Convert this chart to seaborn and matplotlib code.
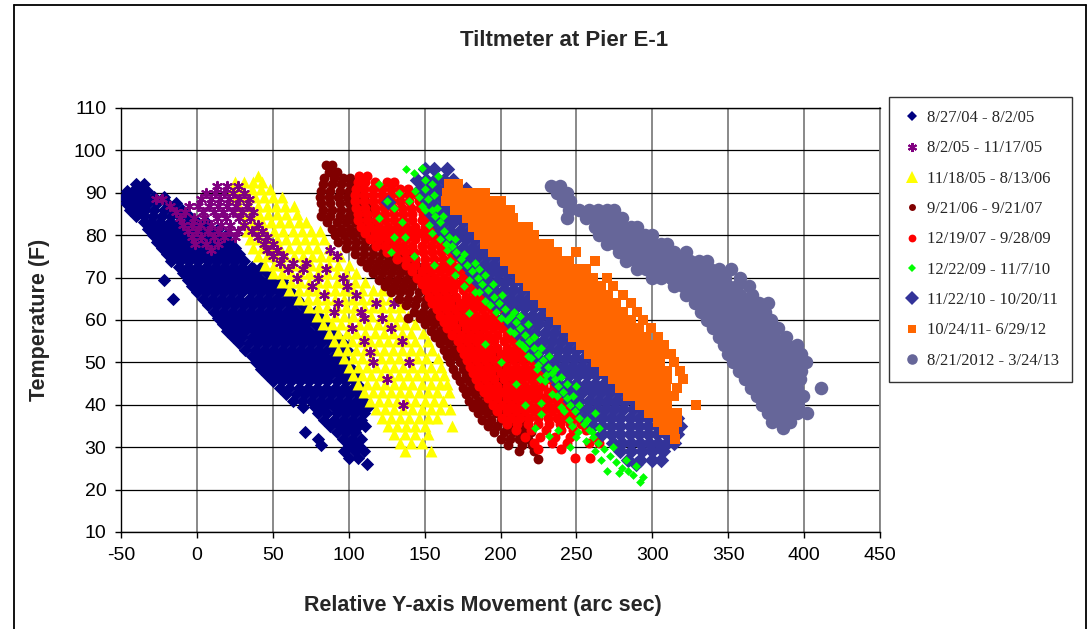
import matplotlib
matplotlib.use("Agg")
import matplotlib.pyplot as plt
import seaborn as sns
import pandas as pd
from matplotlib.lines import Line2D

# ---------------- data ----------------
labels = ["8/27/04 - 8/2/05", "8/2/05 - 11/17/05", "11/18/05 - 8/13/06",
          "9/21/06 - 9/21/07", "12/19/07 - 9/28/09", "12/22/09 - 11/7/10",
          "11/22/10 - 10/20/11", "10/24/11- 6/29/12", "8/21/2012 - 3/24/13"]

# each row: (temperature F, [relative Y-axis movement values, arc sec])
navy_rows = [
    (92, [-40, -35]), (90.5, [-46, -42, -37, -33]),
    (89, [-48, -44, -39, -34, -28, -22]), (87.5, [-47, -42, -37, -32, -26, -20, -14]),
    (86, [-44, -39, -34, -28, -22, -16, -10]), (84.5, [-40, -35, -29, -23, -17, -11, -5]),
    (83, [-35, -30, -24, -18, -12, -6, 0, 6]), (81.5, [-32, -27, -21, -15, -9, -3, 3, 9, 14]),
    (80, [-29, -23, -17, -11, -5, 1, 7, 13, 19]), (78.5, [-26, -20, -14, -8, -2, 4, 10, 16, 22]),
    (77, [-23, -17, -11, -5, 1, 7, 13, 19, 25]), (75.5, [-20, -14, -8, -2, 4, 10, 16, 22, 28]),
    (74, [-17, -11, -5, 1, 7, 13, 19, 25, 31]), (72.5, [-12, -6, 0, 6, 12, 18, 24, 30, 36, 42]),
    (71, [-9, -3, 3, 9, 15, 21, 27, 33, 39, 46]),
    (69.5, [-22, -6, 0, 6, 12, 18, 24, 30, 36, 42, 49, 56]),
    (68, [-3, 3, 9, 15, 21, 27, 33, 39, 45, 52, 59]),
    (66.5, [0, 6, 12, 18, 24, 30, 36, 42, 48, 55, 62]),
    (65, [-16, 4, 10, 16, 22, 28, 34, 40, 46, 52, 59, 66]),
    (63.5, [7, 13, 19, 25, 31, 37, 43, 49, 55, 62, 69]),
    (62, [11, 17, 23, 29, 35, 41, 47, 53, 59, 65, 72, 78]),
    (60.5, [14, 20, 26, 32, 38, 44, 50, 56, 62, 68, 75, 82]),
    (59, [17, 23, 29, 35, 41, 47, 53, 59, 65, 71, 78, 86]),
    (57.5, [20, 26, 32, 38, 44, 50, 56, 62, 68, 74, 81, 89]),
    (56, [24, 30, 36, 42, 48, 54, 60, 66, 72, 78, 85, 93]),
    (54.5, [28, 34, 40, 46, 52, 58, 64, 70, 76, 82, 89, 96]),
    (53, [32, 38, 44, 50, 56, 62, 68, 74, 80, 86, 92, 99]),
    (51.5, [36, 42, 48, 54, 60, 66, 72, 78, 84, 90, 96]),
    (50, [39, 45, 51, 57, 63, 69, 75, 81, 87, 93, 99]),
    (48.5, [42, 48, 54, 60, 66, 72, 78, 84, 90, 96, 102]),
    (47, [46, 52, 58, 64, 70, 76, 82, 88, 94, 100, 106]),
    (45.5, [50, 56, 62, 68, 74, 80, 86, 92, 98, 104]),
    (44, [55, 61, 67, 73, 79, 85, 91, 97, 103, 108]),
    (42.5, [59, 65, 71, 77, 83, 89, 95, 101, 107]),
    (41, [63, 69, 75, 81, 87, 93, 99, 105, 110]),
    (39.5, [70, 78, 84, 90, 96, 102, 108, 113]),
    (38, [80, 86, 92, 98, 104, 110]), (36.5, [84, 90, 96, 102, 108]),
    (35, [88, 94, 100, 106, 111]), (33.5, [71, 92, 98, 104]),
    (32, [80, 96, 102, 108]), (30.5, [82, 100, 106]), (29, [97, 104, 110]),
    (27.5, [100, 106]), (26, [112]),
]

purple_rows = [
    (91.5, [13, 20, 27]), (90, [6, 12, 18, 24, 31]),
    (88.5, [-27, -23, 3, 9, 15, 21, 28, 34]), (87, [-18, -5, 1, 8, 14, 20, 26, 33]),
    (85.5, [-14, -8, 4, 11, 17, 24, 30, 37]), (84, [-11, -2, 5, 13, 19, 28, 35]),
    (82.5, [-9, -3, 2, 9, 16, 22, 31, 40]), (81, [-6, 0, 7, 14, 21, 27, 36, 43]),
    (79.5, [-3, 3, 11, 18, 25, 40, 46]), (78, [-1, 6, 14, 44, 50]),
    (76.5, [9, 46, 53, 88]), (75, [50, 57, 92]), (73.5, [55, 63, 72]),
    (72, [60, 70, 85]), (70, [66, 80, 96]), (68, [76, 99]), (66, [84, 105]),
    (64, [93, 118, 130]), (62, [90, 108]), (60.5, [110, 122]), (58, [102, 128]),
    (55, [110, 135]), (52.5, [114]), (50, [116, 140]), (46, [125]), (40, [136]),
]

yellow_rows = [
    (94, [40]), (92.5, [25, 31, 37, 43]), (91, [24, 30, 36, 42, 48]),
    (89, [26, 32, 38, 44, 50, 56]), (87, [28, 34, 40, 46, 52, 58, 64]),
    (85, [29, 35, 41, 47, 53, 59, 66]), (83, [31, 37, 43, 49, 55, 61, 67, 72]),
    (81, [33, 39, 45, 51, 57, 63, 69, 75, 81]), (79, [35, 41, 47, 53, 59, 65, 71, 77, 84]),
    (77, [37, 43, 49, 55, 61, 67, 73, 79, 87]),
    (75, [40, 46, 52, 58, 64, 70, 76, 82, 88, 94]),
    (73, [45, 51, 57, 63, 69, 75, 81, 87, 93, 100]),
    (71, [50, 56, 62, 68, 74, 80, 86, 92, 98, 105]),
    (69, [56, 62, 68, 74, 80, 86, 92, 98, 104, 111]),
    (67, [61, 67, 73, 79, 85, 91, 97, 103, 109, 116, 122]),
    (65, [67, 73, 79, 85, 91, 97, 103, 109, 115, 121, 127]),
    (63, [74, 80, 86, 92, 98, 104, 110, 116, 122, 128, 134]),
    (61, [79, 85, 91, 97, 103, 109, 115, 121, 127, 133, 139]),
    (59, [83, 89, 95, 101, 107, 113, 119, 125, 131, 137, 144]),
    (57, [87, 93, 99, 105, 111, 117, 123, 129, 135, 141, 149]),
    (55, [90, 96, 102, 108, 114, 120, 126, 132, 138, 144, 152]),
    (53, [93, 99, 105, 111, 117, 123, 129, 135, 141, 147, 155]),
    (51, [97, 103, 109, 115, 121, 127, 133, 139, 145, 151, 159]),
    (49, [100, 106, 112, 118, 124, 130, 136, 142, 148, 154, 161]),
    (47, [103, 109, 115, 121, 127, 133, 139, 145, 151, 157, 163]),
    (45, [106, 112, 118, 124, 130, 136, 142, 148, 154, 160, 165]),
    (43, [110, 116, 122, 128, 134, 140, 146, 152, 158, 166]),
    (41, [114, 120, 126, 132, 138, 144, 150, 156, 162]),
    (39, [118, 124, 130, 136, 142, 148, 154, 160, 167]),
    (37, [122, 128, 134, 140, 146, 152, 158]), (35, [126, 132, 138, 144, 150, 168]),
    (33, [130, 137, 144, 152]), (31, [134, 141, 148]), (29, [137, 154]),
]

darkred_rows = [
    (96.5, [85, 89]), (95, [87, 92]), (93.5, [84, 90, 96, 101]),
    (92, [83, 89, 95, 101, 106]), (90.5, [82, 88, 94, 100, 106]),
    (89, [81, 87, 93, 99, 105, 110]), (87.5, [82, 88, 94, 100, 106, 112]),
    (86, [83, 89, 95, 101, 107, 113]), (84.5, [82, 88, 94, 100, 106, 112]),
    (83, [86, 92, 98, 104, 110, 116]), (81.5, [89, 95, 101, 107, 113, 119]),
    (80, [91, 97, 103, 109, 115, 121]), (78.5, [93, 99, 105, 111, 117, 123, 129]),
    (77, [98, 104, 110, 116, 122, 128, 134]), (75.5, [104, 110, 116, 122, 128, 134, 140]),
    (74, [108, 114, 120, 126, 132, 138, 144]), (72.5, [112, 118, 124, 130, 136, 142, 148]),
    (71, [116, 122, 128, 134, 140, 146, 152]), (69.5, [120, 126, 132, 138, 144, 150, 156]),
    (68, [124, 130, 136, 142, 148, 154, 160]), (66.5, [128, 134, 140, 146, 152, 158, 164]),
    (65, [133, 139, 145, 151, 157, 163, 169]), (63.5, [138, 144, 150, 156, 162, 168, 174]),
    (62, [143, 149, 155, 161, 167, 173]), (60.5, [139, 147, 153, 159, 165, 171, 177]),
    (59, [150, 156, 162, 168, 174, 180]), (57.5, [154, 160, 166, 172, 178, 184]),
    (56, [157, 163, 169, 175, 181, 187]), (54.5, [160, 166, 172, 178, 184, 190]),
    (53, [163, 169, 175, 181, 187, 193]), (51.5, [165, 171, 177, 183, 189, 195]),
    (50, [167, 173, 179, 185, 191, 197]), (48.5, [169, 175, 181, 187, 193, 199]),
    (47, [171, 177, 183, 189, 195, 201]), (45.5, [173, 179, 185, 191, 197, 203]),
    (44, [175, 181, 187, 193, 199, 205]), (42.5, [177, 183, 189, 195, 201, 207]),
    (41, [179, 185, 191, 197, 203, 209]), (39.5, [182, 188, 194, 200, 206, 212]),
    (38, [185, 191, 197, 203, 209, 215]), (36.5, [188, 194, 200, 206, 212, 218]),
    (35, [192, 198, 204, 210, 216]), (33.5, [196, 202, 208, 214, 220]),
    (32, [200, 206, 212, 218]), (30.5, [205, 214, 221]), (29, [212, 222]), (27.3, [225]),
]

red_rows = [
    (94, [107, 112]), (92.5, [106, 111, 117, 125, 130]),
    (91, [105, 110, 116, 122, 128, 134, 139]),
    (89.5, [104, 110, 116, 122, 128, 134, 140, 145]),
    (88, [104, 110, 116, 122, 128, 134, 140, 146]),
    (86.5, [105, 111, 117, 123, 129, 135, 141, 147]),
    (85, [106, 112, 118, 124, 130, 136, 142, 149]),
    (83.5, [106, 112, 118, 124, 130, 136, 142, 148, 152]),
    (82, [108, 114, 120, 126, 132, 138, 144, 150, 155]),
    (80.5, [111, 117, 123, 129, 135, 141, 147, 153, 159]),
    (79, [114, 120, 126, 132, 138, 144, 150, 156, 162]),
    (77.5, [118, 124, 130, 136, 142, 148, 154, 160, 166]),
    (76, [125, 131, 137, 143, 149, 155, 161, 167, 172]),
    (74.5, [132, 138, 144, 150, 156, 162, 168, 174, 177]),
    (73, [138, 144, 150, 156, 162, 168, 174, 180]),
    (71.5, [142, 148, 154, 160, 166, 172, 178, 184]),
    (70, [145, 151, 157, 163, 169, 175, 181, 187]),
    (68.5, [148, 154, 160, 166, 172, 178, 184, 190]),
    (67, [151, 157, 163, 169, 175, 181, 187, 194]),
    (65.5, [153, 159, 165, 171, 177, 183, 189, 195, 199]),
    (64, [155, 161, 167, 173, 179, 185, 191, 197, 203]),
    (62.5, [158, 164, 170, 176, 182, 188, 194, 200, 206]),
    (61, [160, 166, 172, 178, 184, 190, 196, 202, 209]),
    (59.5, [163, 169, 175, 181, 187, 193, 199, 205, 212]),
    (58, [165, 171, 177, 183, 189, 195, 201, 207, 214]),
    (56.5, [168, 174, 180, 186, 192, 198, 204, 210, 216]),
    (55, [172, 178, 184, 190, 196, 202, 208, 214, 219]),
    (53.5, [174, 180, 186, 192, 198, 204, 210, 216, 221]),
    (52, [176, 182, 188, 194, 200, 206, 212, 218, 224]),
    (50.5, [178, 184, 190, 196, 202, 208, 214, 220, 226]),
    (49, [180, 186, 192, 198, 204, 210, 216, 222, 228]),
    (47.5, [182, 188, 194, 200, 206, 212, 218, 224, 230]),
    (46, [184, 190, 196, 202, 208, 214, 220, 226, 232]),
    (44.5, [186, 192, 198, 204, 210, 216, 222, 228, 235]),
    (43, [189, 195, 201, 207, 213, 219, 225, 231, 238]),
    (41.5, [192, 198, 204, 210, 216, 222, 228, 234, 240]),
    (40, [195, 201, 207, 213, 219, 225, 231, 237, 243]),
    (38.5, [198, 204, 210, 216, 222, 228, 234, 240, 246]),
    (37, [201, 207, 213, 219, 225, 231, 237, 243, 249]),
    (35.5, [204, 211, 218, 225, 232, 239, 246, 253]),
    (34, [210, 220, 230, 240, 248, 256]), (32.5, [216, 226, 236, 246, 262]),
    (31, [222, 234, 244, 258, 265]), (29.5, [225, 240]), (27.5, [249, 259]),
]

green_x = [138, 143, 148, 159, 155, 150, 146, 152, 148, 155, 157, 160, 153, 163, 166, 160,
           168, 171, 165, 174, 178, 172, 181, 185, 179, 188, 192, 186, 196, 199, 193, 203,
           207, 200, 210, 213, 206, 216, 219, 212, 222, 225, 218, 228, 231, 224, 234, 236,
           229, 238, 241, 234, 244, 246, 240, 249, 252, 245, 255, 258, 251, 261, 264, 268,
           272, 276, 280, 284, 287, 292, 270, 278,
           120, 120, 130, 130, 137, 143, 156, 125, 135, 140, 133, 128, 179, 190, 227, 216,
           226, 227, 216, 223, 232, 200, 210, 238, 246,
           150, 144, 156, 150, 158, 162, 155, 164, 170, 167, 176, 170, 183, 176, 186, 183,
           190, 190, 195, 197, 201, 204, 209, 209, 213, 214, 218, 220, 222, 225, 227, 230,
           232, 236, 237, 240, 242, 244, 247, 248, 250, 252, 256, 257, 262, 260, 266, 274,
           283, 289, 294, 265, 250, 262]
green_y = [95.5, 94.7, 95.8, 94, 92, 91, 89, 88.5, 87, 86, 84.5, 83, 82.5, 81, 79.5, 79,
           77.5, 76, 76.5, 74.5, 73, 72.5, 71.5, 70, 69.5, 68.5, 67, 66.5, 65.5, 64, 63.5, 62.5,
           61, 60.5, 59.5, 58, 57.5, 56.5, 55, 54.5, 53.5, 52, 51.5, 50.5, 49, 48.5, 47.5, 46,
           45.5, 44.5, 43, 42.5, 41.5, 40, 39.5, 38.5, 37, 36.5, 35.5, 34, 33.5, 32.5, 31, 29.5,
           28, 26.5, 25, 24.5, 23.5, 21.8, 24.5, 24,
           92, 84, 86.5, 79.5, 79.5, 75, 73, 88, 83, 88, 90, 76, 61.7, 54.4, 37.8, 53.3,
           46, 40.5, 40, 34.6, 32.7, 50, 45, 34, 30,
           93, 90.5, 89.5, 86, 86.5, 84.5, 80.5, 78, 79, 74, 75.5, 70.5, 73.5, 68, 72, 66.5,
           70.5, 64.5, 68.5, 62, 66, 60, 62, 57, 61, 54, 59, 51, 56, 49.5, 53.5, 47,
           51.5, 48.5, 42, 46.5, 38.5, 45, 35, 42, 32.5, 40, 31.5, 36.5, 29, 33.5, 27, 30,
           27, 25.5, 23, 34.5, 44.5, 38]

blue_rows = [
    (95.5, [150, 156, 165]), (93, [145, 151, 157, 163, 169]),
    (91, [147, 153, 159, 165, 171, 177]), (89, [149, 155, 161, 167, 173, 179, 185]),
    (87.8, [126]),
    (87, [151, 157, 163, 169, 175, 181, 187]), (85, [154, 160, 166, 172, 178, 184, 190]),
    (83, [157, 163, 169, 175, 181, 187, 193]), (81, [161, 167, 173, 179, 185, 191, 197]),
    (79, [165, 171, 177, 183, 189, 195, 201]), (77, [169, 175, 181, 187, 193, 199, 205]),
    (75, [173, 179, 185, 191, 197, 203, 209]), (73, [177, 183, 189, 195, 201, 207, 213]),
    (71, [181, 187, 193, 199, 205, 211, 217, 223]),
    (69, [185, 191, 197, 203, 209, 215, 221, 227]),
    (67, [190, 196, 202, 208, 214, 220, 226, 232]),
    (65, [194, 200, 206, 212, 218, 224, 230, 236]),
    (63, [198, 204, 210, 216, 222, 228, 234, 240]),
    (61, [203, 209, 215, 221, 227, 233, 239, 245]),
    (59, [207, 213, 219, 225, 231, 237, 243, 249]),
    (57, [211, 217, 223, 229, 235, 241, 247, 253]),
    (55, [216, 222, 228, 234, 240, 246, 252, 258, 264]),
    (53, [220, 226, 232, 238, 244, 250, 256, 262, 268]),
    (51, [225, 231, 237, 243, 249, 255, 261, 267, 273]),
    (49, [229, 235, 241, 247, 253, 259, 265, 271, 277]),
    (47, [233, 239, 245, 251, 257, 263, 269, 275, 281]),
    (45, [238, 244, 250, 256, 262, 268, 274, 280, 286]),
    (43, [242, 248, 254, 260, 266, 272, 278, 284, 290]),
    (41, [246, 252, 258, 264, 270, 276, 282, 288, 295]),
    (39, [251, 257, 263, 269, 275, 281, 287, 293, 300]),
    (37, [255, 261, 267, 273, 279, 285, 291, 297, 304, 316]),
    (35, [261, 267, 273, 279, 285, 291, 297, 303, 310, 318]),
    (33, [267, 273, 279, 285, 291, 297, 303, 309, 316]),
    (31, [274, 280, 286, 292, 298, 304, 310, 314]),
    (29, [279, 286, 293, 300, 307]), (27, [284, 292, 300, 306]), (26, [289]),
]

orange_rows = [
    (92, [166, 172]), (90, [165, 171, 177, 183, 190]),
    (88, [164, 170, 176, 182, 188, 194, 200]), (86, [170, 176, 182, 188, 194, 200, 206]),
    (84, [178, 184, 190, 196, 202, 208]), (82, [182, 188, 194, 200, 206, 212, 218]),
    (80, [186, 192, 198, 204, 210, 216, 222]), (78, [190, 196, 202, 208, 214, 220, 226, 232]),
    (76, [195, 201, 207, 213, 219, 225, 231, 237, 250]),
    (74, [203, 209, 215, 221, 227, 233, 239, 245, 262]),
    (72, [208, 214, 220, 226, 232, 238, 244, 250, 256]),
    (70, [213, 219, 225, 231, 237, 243, 249, 255, 261, 270]),
    (68, [218, 224, 230, 236, 242, 248, 254, 260, 266, 274]),
    (66, [223, 229, 235, 241, 247, 253, 259, 265, 271, 281]),
    (64, [228, 234, 240, 246, 252, 258, 264, 270, 276, 286]),
    (62, [233, 239, 245, 251, 257, 263, 269, 275, 281, 290]),
    (60, [238, 244, 250, 256, 262, 268, 274, 280, 286, 294]),
    (58, [243, 249, 255, 261, 267, 273, 279, 285, 291, 299]),
    (56, [248, 254, 260, 266, 272, 278, 284, 290, 296, 304]),
    (54, [253, 259, 265, 271, 277, 283, 289, 295, 301, 308]),
    (52, [258, 264, 270, 276, 282, 288, 294, 300, 306, 312]),
    (50, [263, 269, 275, 281, 287, 293, 299, 305, 314]),
    (48, [268, 274, 280, 286, 292, 298, 304, 310, 318]),
    (46, [274, 280, 286, 292, 298, 304, 310, 320]),
    (44, [279, 285, 291, 297, 303, 309, 316]),
    (42, [284, 290, 296, 302, 308, 314]), (40, [292, 298, 304, 310, 329]),
    (38, [298, 304, 310, 316]), (36, [304, 310, 316]), (34, [308, 314]), (32, [315]),
]

grey_rows = [
    (91.5, [233, 239]), (90, [237, 244]), (88, [241, 246]),
    (86, [245, 252, 258, 264, 270, 275]), (84, [244, 256, 262, 268, 274, 280]),
    (82, [262, 268, 274, 280, 286, 290]), (80, [265, 271, 277, 283, 289, 295, 300]),
    (78, [270, 276, 282, 288, 294, 300, 306, 310]),
    (76, [278, 284, 290, 296, 302, 308, 314, 322]),
    (74, [283, 289, 295, 301, 307, 313, 319, 325, 331, 336]),
    (72, [290, 296, 302, 308, 314, 320, 326, 332, 338, 344, 352]),
    (70, [300, 306, 312, 318, 324, 330, 336, 342, 348, 358]),
    (68, [314, 320, 326, 332, 338, 344, 350, 356, 364]),
    (66, [322, 328, 334, 340, 346, 352, 358, 366]),
    (64, [328, 334, 340, 346, 352, 358, 364, 370, 376]),
    (62, [332, 338, 344, 350, 356, 362, 368, 374]),
    (60, [336, 342, 348, 354, 360, 366, 372, 378]),
    (58, [340, 346, 352, 358, 364, 370, 376, 383]),
    (56, [344, 350, 356, 362, 368, 374, 380, 388]),
    (54, [347, 353, 359, 365, 371, 377, 383, 389, 395]),
    (52, [350, 356, 362, 368, 374, 380, 386, 392, 398]),
    (50, [353, 359, 365, 371, 377, 383, 389, 395, 401]),
    (48, [357, 363, 369, 375, 381, 387, 393, 398]),
    (46, [361, 367, 373, 379, 385, 391, 397]),
    (44, [365, 371, 377, 383, 389, 395, 411]),
    (42, [369, 375, 381, 387, 393, 399]), (40, [372, 378, 384, 390, 396]),
    (38, [376, 382, 388, 395, 402]), (36, [379, 385, 391]), (34.5, [386]),
]

x_ticks = [-50, 0, 50, 100, 150, 200, 250, 300, 350, 400, 450]
y_ticks = [10, 20, 30, 40, 50, 60, 70, 80, 90, 100, 110]

# ---------------- styles ----------------
colors = ["#000080", "#800080", "#FFFF00", "#800000", "#FF0000",
          "#00FF00", "#333399", "#FF6600", "#666699"]
markers = ["D", (6, 2, 0), "^", "o", "o", "D", "D", "s", "o"]
sizes = [46, 44, 74, 50, 52, 20, 62, 56, 95]
zorders = [3.0, 3.25, 3.2, 3.3, 3.4, 3.6, 3.5, 3.7, 3.8]
leg_ms = [5.0, 6.5, 8.0, 5.0, 5.6, 4.0, 7.5, 5.6, 7.6]


def expand(rows):
    xs, ys = [], []
    for t, vals in rows:
        for v in vals:
            xs.append(v)
            ys.append(t)
    return xs, ys


series_xy = [expand(navy_rows), expand(purple_rows), expand(yellow_rows),
             expand(darkred_rows), expand(red_rows), (green_x, green_y),
             expand(blue_rows), expand(orange_rows), expand(grey_rows)]

sns.set_theme(style="white")
plt.rcParams['font.family'] = ['Liberation Sans', 'DejaVu Sans']
plt.rcParams['axes.unicode_minus'] = False

fig = plt.figure(figsize=(10.89, 6.29), dpi=100)
ax = fig.add_axes([121 / 1089, 1 - 532 / 629, 759 / 1089, 424 / 629])

for (xs, ys), lab, c, m, s, z in zip(series_xy, labels, colors, markers, sizes, zorders):
    df = pd.DataFrame({"x": xs, "y": ys})
    if m == (6, 2, 0):
        sns.scatterplot(data=df, x="x", y="y", ax=ax, marker=m, s=s, color=c,
                        edgecolor=c, linewidth=1.5, legend=False, zorder=z)
    else:
        sns.scatterplot(data=df, x="x", y="y", ax=ax, marker=m, s=s, color=c,
                        linewidth=0, legend=False, zorder=z)

ax.set_xlim(-50, 450)
ax.set_ylim(10, 110)
ax.set_xticks(x_ticks)
ax.set_yticks(y_ticks)
ax.set_xlabel("")
ax.set_ylabel("")
ax.set_axisbelow(True)
ax.grid(axis="y", color="black", linewidth=0.9)
ax.grid(axis="x", color="#808080", linewidth=1.3)
for side in ["left", "bottom", "top"]:
    ax.spines[side].set_color("black")
    ax.spines[side].set_linewidth(1.0)
ax.spines["right"].set_color("#808080")
ax.spines["right"].set_linewidth(1.3)
ax.tick_params(axis="both", direction="out", length=4.5, width=1, color="black",
               labelsize=14, labelcolor="black", left=True, bottom=True, pad=6)

fig.text(564 / 1089, 1 - 40 / 629, "Tiltmeter at Pier E-1", ha="center", va="center",
         fontsize=16, fontweight="bold")
fig.text(483 / 1089, 1 - 606 / 629, "Relative Y-axis Movement (arc sec)", ha="center",
         va="center", fontsize=15.5, fontweight="bold")
fig.text(40 / 1089, 1 - 320 / 629, "Temperature (F)", ha="center", va="center",
         rotation=90, fontsize=15.5, fontweight="bold")

handles = []
for c, m, ms in zip(colors, markers, leg_ms):
    if m == (6, 2, 0):
        handles.append(Line2D([], [], linestyle="none", marker=m, markersize=ms,
                              color=c, markeredgecolor=c, markeredgewidth=1.5))
    else:
        handles.append(Line2D([], [], linestyle="none", marker=m, markersize=ms,
                              color=c, markeredgewidth=0))
leg = fig.legend(handles, labels, loc="upper left",
                 bbox_to_anchor=(889 / 1089, 1 - 97 / 629), bbox_transform=fig.transFigure,
                 frameon=True, fancybox=False, edgecolor="black", borderpad=0.78,
                 labelspacing=0.86, handlelength=1.2, handletextpad=0.3, borderaxespad=0,
                 prop={"family": ["Liberation Serif", "DejaVu Serif"], "size": 12})
leg.get_frame().set_linewidth(1.0)

# outer chart border
fig.add_artist(Line2D([14 / 1089, 14 / 1089], [0, 1 - 5 / 629], transform=fig.transFigure,
                      color="black", linewidth=1.3))
fig.add_artist(Line2D([14 / 1089, 1086 / 1089], [1 - 5 / 629, 1 - 5 / 629],
                      transform=fig.transFigure, color="black", linewidth=1.3))
fig.add_artist(Line2D([1086 / 1089, 1086 / 1089], [0, 1 - 5 / 629], transform=fig.transFigure,
                      color="black", linewidth=1.3))

fig.savefig("out.png", dpi=100)
